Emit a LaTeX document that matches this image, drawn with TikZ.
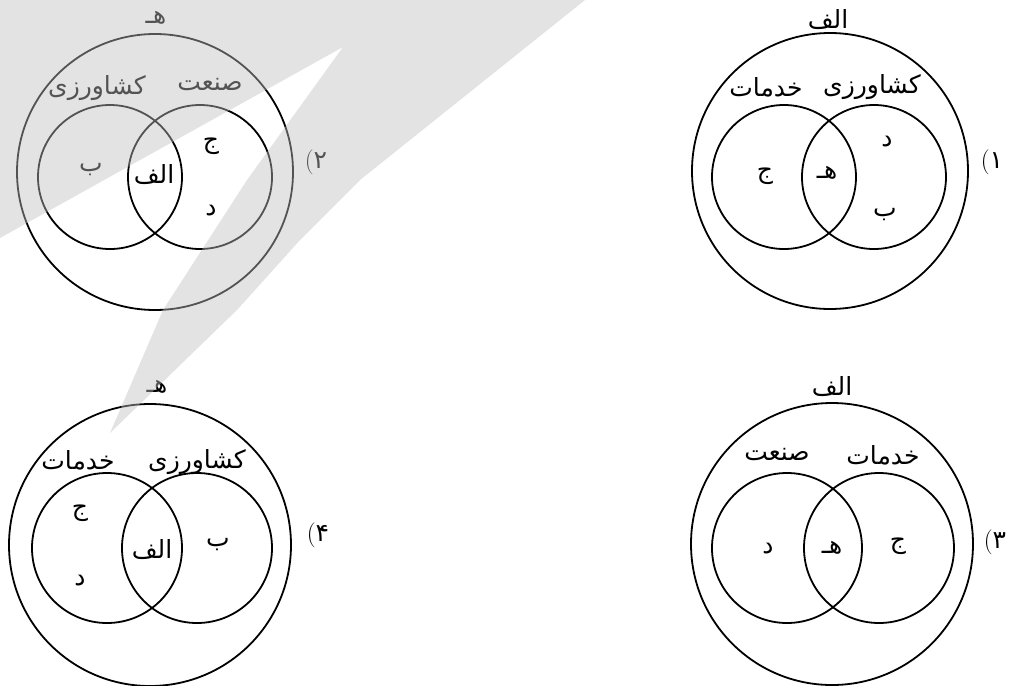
\documentclass[tikz,border=0pt]{standalone}
\usepackage{fontspec}
\newfontfamily\arabicfont[Script=Arabic]{DejaVu Sans}
\TeXXeTstate=1

\begin{document}
\begin{tikzpicture}[x=1pt, y=-1pt, line width=1.8pt,
        font=\arabicfont\fontsize{25}{30}\selectfont,
        lbl/.style={inner sep=1pt},
        mark2/.style={fill=black!25, opacity=0.44}]
                \useasboundingbox (0,0) rectangle (1013,686);

                \foreach \cx/\cy/\r in {155/172/138, 110/177/72, 200/177/72,
                                        830/171/138, 784/177/72, 874/177/72,
                                        150/545/141, 107/548/75, 197/548/75,
                                        832/544/141, 787/548/75, 879/548/75}
                    \draw (\cx,\cy) circle (\r pt);

                % (1)
                \node[lbl] (u1)  at (828,20)  {\beginR الف\endR};
                \node[lbl] (x1)  at (766,87)  {\beginR خدمات\endR};
                \node[lbl] (y1)  at (872,87)  {\beginR کشاورزی\endR};
                \node[lbl] (j1)  at (765,176) {\beginR ج\endR};
                \node[lbl] (h1)  at (827,173) {\beginR هـ\endR};
                \node[lbl] (d1)  at (887,142) {\beginR د\endR};
                \node[lbl] (b1)  at (885,215) {\beginR ب\endR};
                \node[lbl] (n1)  at (992,162) {\hbox{\normalfont(}\hbox{۱}};

                % (2)
                \node[lbl] (u2)  at (156,18)  {\beginR هـ\endR};
                \node[lbl] (x2)  at (97,88)   {\beginR کشاورزی\endR};
                \node[lbl] (y2)  at (210,85)  {\beginR صنعت\endR};
                \node[lbl] (b2)  at (91,170)  {\beginR ب\endR};
                \node[lbl] (a2)  at (154,175) {\beginR الف\endR};
                \node[lbl] (j2)  at (211,146) {\beginR ج\endR};
                \node[lbl] (d2)  at (211,211) {\beginR د\endR};
                \node[lbl] (n2)  at (316,162) {\hbox{\normalfont(}\hbox{۲}};

                % (3)
                \node[lbl] (u3)  at (832,387) {\beginR الف\endR};
                \node[lbl] (x3)  at (777,455) {\beginR صنعت\endR};
                \node[lbl] (y3)  at (883,455) {\beginR خدمات\endR};
                \node[lbl] (d3)  at (768,549) {\beginR د\endR};
                \node[lbl] (h3)  at (832,548) {\beginR هـ\endR};
                \node[lbl] (j3)  at (898,546) {\beginR ج\endR};
                \node[lbl] (n3)  at (995,542) {\hbox{\normalfont(}\hbox{۳}};

                % (4)
                \node[lbl] (u4)  at (157,387) {\beginR هـ\endR};
                \node[lbl] (x4)  at (78,460)  {\beginR خدمات\endR};
                \node[lbl] (y4)  at (197,462) {\beginR کشاورزی\endR};
                \node[lbl] (j4)  at (80,513)  {\beginR ج\endR};
                \node[lbl] (d4)  at (80,581)  {\beginR د\endR};
                \node[lbl] (a4)  at (152,550) {\beginR الف\endR};
                \node[lbl] (b4)  at (218,545) {\beginR ب\endR};
                \node[lbl] (n4)  at (318,535) {\hbox{\normalfont(}\hbox{۴}};

                \fill[mark2] (0,0) -- (585,0) -- (360,180) -- (300,240) -- (237,310)
                    -- (110,433) -- (163,310) -- (247,180) -- (343,47) -- (0,238) -- cycle;
\end{tikzpicture}
\end{document}
